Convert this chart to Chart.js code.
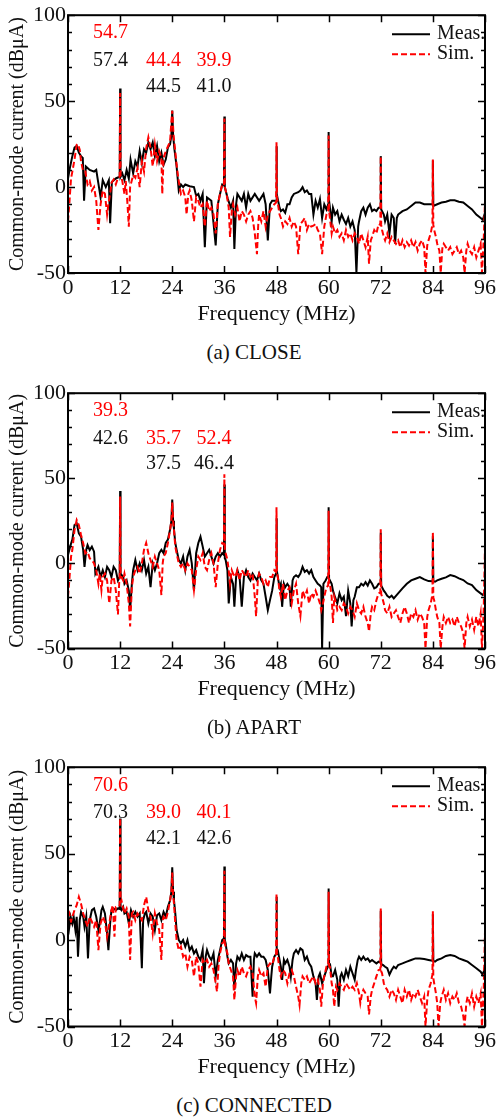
<!DOCTYPE html>
<html>
<head>
<meta charset="utf-8">
<script src="https://cdn.jsdelivr.net/npm/chart.js@4.4.1/dist/chart.umd.min.js"></script>
<style>
  html, body { margin: 0; padding: 0; background: #fff; }
  body { width: 498px; height: 1120px; position: relative; overflow: hidden; font-family: "Liberation Serif", "Times New Roman", serif; }
  canvas { position: absolute; left: 0; }
  .cap { position: absolute; left: 0; width: 508px; text-align: center; font-size: 21px; line-height: 24px; color: #111; }
</style>
</head>
<body>
<canvas id="cA" width="498" height="340" style="top:0px"></canvas>
<canvas id="cB" width="498" height="340" style="top:378px"></canvas>
<canvas id="cC" width="498" height="340" style="top:752px"></canvas>
<div class="cap" style="top:340px">(a) CLOSE</div>
<div class="cap" style="top:715px">(b) APART</div>
<div class="cap" style="top:1093px">(c) CONNECTED</div>
<script>
// ---------------- DATA (frequency MHz, level dBµA) ----------------
const closeMeas = [[0,5],[0.5,12],[1,18],[1.5,23],[2,24],[2.5,20],[3,18],[3.4,17],[3.7,-8],[4.1,12],[5,10],[6,9],[6.5,10],[7,2],[7.5,-6],[8,4],[8.7,0],[9.4,4],[9.7,-21],[10.1,3],[11,5],[11.9,6],[12,57.4],[12.1,6],[12.5,8],[13,4],[13.5,10],[14,5],[14.4,16],[15,8],[15.5,15],[16,12],[16.5,21],[17,14],[17.5,22],[18,20],[18.5,26],[19,22],[19.5,26],[20,18],[20.5,24],[21,15],[21.5,20],[22,13],[22.5,16],[23,23],[23.5,25],[23.8,30],[24,44.5],[24.2,30],[24.5,22],[25,12],[25.5,-2],[26,1.5],[26.5,0],[27,1.5],[28,0.5],[29,0],[29.5,-5],[30,-4],[30.5,-8],[31,-4],[31.5,-35],[32,-6],[33,-8],[34,-34],[34.5,-10],[35,-4],[35.5,1.5],[35.9,1],[36,41.0],[36.1,0],[36.8,-7],[37.5,-12],[38,-8],[38.3,-36],[38.7,-10],[39,-4],[40,-8],[40.5,-4],[41,-12],[41.5,-4],[42,-8],[43,-4],[44,-8],[45,-4],[45.5,-10],[46,-31],[46.5,-10],[47,-8],[47.9,-8],[48,23.7],[48.1,-4],[48.7,-12],[49,-14],[49.5,-13],[50,-15],[50.5,-10],[51,-10],[51.5,-6],[52,-4],[53,-3],[53.5,-2],[54,0],[54.5,-3],[55,-2],[55.5,-4],[56,-4],[56.5,-16],[57,-8],[57.5,-12],[58,-7],[58.5,-18],[59,-10],[59.5,-13],[59.9,-10],[60,32],[60.1,-8],[60.7,-20],[61,-12],[61.5,-16],[62,-14],[62.5,-20],[63,-16],[63.5,-19],[64,-21.5],[64.5,-18],[65,-23],[65.5,-20],[66,-25],[66.4,-50],[66.8,-23],[67,-20],[67.5,-14],[68,-12],[68.5,-16],[69,-12],[69.5,-10],[70,-14],[70.5,-13],[71,-14],[71.5,-12],[71.9,-12],[72,18],[72.1,-13],[72.7,-16],[73,-20],[73.5,-16],[74,-27],[74.5,-16],[75,-18],[75.3,-33],[75.7,-18],[76,-16],[77,-14],[78,-13],[79,-11],[80,-9],[81,-9],[82,-10],[83,-10],[83.9,-10],[84,15.4],[84.1,-11],[85,-10],[86,-9],[87,-8.5],[88,-7.7],[89,-7.7],[90,-8.5],[91,-9],[92,-11],[93,-13],[94,-16],[95,-18],[95.5,-19],[96,-15]];
const closeSim = [[0,-20],[0.3,-10],[0.7,5],[1,9],[1.5,16],[2,24.6],[2.3,25],[2.7,21.7],[3,15],[3.5,9],[4,9],[4.5,1.5],[5,3.5],[5.5,-2],[6,0],[6.5,-8],[7,-25],[7.5,-10],[8,-2],[8.5,-4],[9,-16],[9.3,-10],[9.7,-4],[10,2.5],[10.5,4.4],[11,1.5],[11.5,5.4],[11.9,6],[12,54.7],[12.1,7],[12.5,3.5],[13,-4],[13.3,3.5],[13.7,-10],[14,-23],[14.3,0],[15,7],[15.5,5.4],[16,11],[16.5,0],[17,15],[17.5,9],[18,22.7],[18.5,29],[19,22.7],[19.5,12],[20,24.6],[20.5,15],[21,20.8],[21.5,17],[21.7,-4],[22,17],[22.5,20.8],[23,23.6],[23.5,26.5],[23.8,38],[24,44.4],[24.3,30],[24.7,20.8],[25,13],[25.3,7],[25.7,0],[26,-4],[26.5,-2],[27,-6],[27.3,-16],[27.7,-4],[28,-2],[28.5,-8],[29,-20],[29.5,-6],[30,-8],[30.5,-12],[31,-10],[31.5,-23],[32,-8],[32.5,-14],[33,-12],[33.5,-16],[34,-27],[34.5,-10],[35,-4],[35.5,1.5],[35.9,1],[36,39.9],[36.1,0],[36.5,-4],[37,-12],[37.3,-29],[37.7,-14],[38,-10],[38.5,-16],[39,-12],[39.5,-20],[40,-14],[40.5,-16],[41,-20],[41.5,-16],[42,-14],[42.5,-18],[43,-27],[43.5,-39],[43.8,-21.5],[44,-16],[44.5,-20],[45,-14],[45.5,-23],[46,-16],[46.5,-14],[47,-12],[47.5,-10],[47.9,-9],[48,26],[48.1,-6],[48.7,-16],[49,-18],[49.5,-23],[50,-20],[50.5,-21.5],[51,-18],[51.5,-23],[52,-20],[52.5,-23],[53,-39],[53.5,-21.5],[54,-20],[54.5,-18],[55,-25],[55.5,-21.5],[56,-23],[56.5,-22.5],[57,-21.5],[57.5,-25],[58,-27],[58.5,-39],[59,-23],[59.5,-16],[59.9,-14],[60,30],[60.1,-14],[60.3,-18],[60.7,-27],[61,-23],[61.5,-27],[62,-25],[62.5,-29],[63,-27],[63.5,-31],[64,-25],[64.5,-29],[65,-27],[65.5,-31],[66,-27],[66.5,-29],[67,-33],[67.5,-27],[68,-31],[68.5,-35],[69,-29],[69.3,-44.6],[69.7,-31],[70,-29],[70.5,-25],[71,-27],[71.5,-21.5],[71.9,-22],[72,18],[72.1,-22],[72.3,-25],[72.7,-29],[73,-31],[73.5,-27],[74,-32],[74.5,-29],[75,-31],[75.5,-33],[76,-31],[76.5,-35],[77,-31],[77.5,-35],[78,-32],[78.5,-34],[79,-31],[79.5,-35],[80,-32],[80.5,-37],[81,-33],[81.5,-31],[82,-35],[82.3,-50],[82.7,-34],[83,-31],[83.5,-27],[83.8,-23],[83.9,-22],[84,16],[84.1,-22],[84.3,-25],[84.7,-29],[85,-33],[85.5,-37],[85.8,-50],[86.2,-35],[86.5,-33],[87,-35],[87.5,-37],[88,-35],[88.5,-39],[89,-37],[89.5,-35],[90,-39],[90.5,-37],[91,-41],[91.3,-50],[91.7,-37],[92,-33],[92.5,-37],[93,-39],[93.5,-35],[94,-41],[94.5,-37],[95,-33],[95.3,-50],[95.7,-31],[96,-8]];

const apartMeas = [[0,5],[0.5,10],[1,14],[1.5,22.5],[2,23.5],[2.5,17.6],[3,15.7],[3.5,7.8],[3.8,-2],[4.2,8],[4.5,10.8],[5,7.8],[5.5,9.8],[6,6.9],[6.3,-6],[7,-2],[7.5,-8],[8,-4],[8.5,-8],[9,-2],[9.5,-4],[10,-8],[10.5,-2],[11,-4],[11.5,-10],[11.9,-8],[12,42.6],[12.1,-6],[12.7,-8],[13,-12],[13.5,-10],[14,-16],[14.3,-27.5],[14.7,-12],[15,-4],[15.5,2],[16,-4],[16.5,0],[17,-4],[17.5,2],[18,-6],[18.5,-2],[19,-14],[19.5,0],[20,-4],[20.5,0],[21,6],[21.5,8],[22,6],[22.5,12],[23,14],[23.5,20],[23.8,25],[24,37.5],[24.2,25],[24.4,20],[24.7,12],[25,8],[25.5,2],[26,0],[26.5,4],[27,-4],[27.5,4],[28,8],[28.5,0],[29,-16],[29.5,6],[30,12],[30.5,15.7],[31,10],[31.5,4],[32,6],[32.5,8],[33,4],[33.5,0],[34,4],[34.5,6],[35,4],[35.5,6],[35.9,5],[36,46.4],[36.1,3],[36.3,2],[36.7,-4],[37,-23.5],[37.5,-8],[38,-12],[38.3,-25.5],[38.7,-8],[39,-4],[39.5,-8],[40,-25.5],[40.5,-8],[41,-4],[41.5,-8],[42,-10],[42.5,-6],[43,-8],[43.5,-10],[44,-6],[44.5,-10],[45,-12],[45.5,-19.6],[46,-27.5],[46.5,-21.6],[47,-16],[47.5,-8],[47.9,-6],[48,26.5],[48.1,-4],[48.7,-14],[49,-12],[49.3,-25.5],[49.7,-12],[50,-14],[50.5,-12],[51,-14],[51.3,-25.5],[51.7,-10],[52,-8],[52.5,-7],[53,-8],[53.5,-6],[54,-2],[54.5,-5],[55,-4],[55.5,-6],[56,-4],[56.5,-8],[57,-10],[57.5,-12],[58,-13],[58.3,-14],[58.5,-50],[58.8,-12],[59.3,-10],[59.7,-8],[59.9,-8],[60,33],[60.1,-9],[60.7,-12],[61,-16],[61.5,-20],[62,-23.5],[62.5,-17.6],[63,-21.6],[63.5,-19.6],[64,-31],[64.5,-16],[65,-23.5],[65.3,-37],[65.7,-21.6],[66,-19.6],[66.5,-14],[67,-14],[67.5,-12],[68,-13],[68.5,-11],[69,-13],[69.5,-10],[70,-12],[70.5,-14.7],[71,-14],[71.5,-12],[71.9,-12],[72,18],[72.1,-13],[72.7,-16],[73,-17],[73.5,-19],[74,-20],[74.5,-19],[75,-20.6],[76,-17.6],[77,-14.7],[78,-12],[79,-10],[80,-9],[81,-8],[82,-9.4],[83,-10.4],[83.9,-10.5],[84,16],[84.1,-10.5],[84.5,-10.8],[85,-10],[86,-9],[87,-8.2],[88,-6.9],[89,-7.5],[90,-8.8],[91,-9.8],[92,-11.8],[93,-12.7],[94,-15.7],[95,-17.6],[95.5,-18.6],[96,-16.7]];
const apartSim = [[0,-19.6],[0.3,-10],[0.7,4],[1,8],[1.5,19.6],[2,25.5],[2.5,22.5],[3,16.7],[3.5,11.8],[4,5.9],[4.5,6.9],[5,3],[5.5,2],[6,0],[6.5,-4],[7,-12],[7.3,-6],[7.7,-15.7],[8,-8],[8.5,-6],[9,-10],[9.5,-23.5],[9.8,-15.7],[10,-10],[10.5,-8],[11,-15.7],[11.5,-30],[11.8,-10],[11.9,-9],[12,39.3],[12.1,-8],[12.3,-8],[12.7,-10],[13,-6],[13.5,-12],[14,-23.5],[14.3,-37],[14.7,-14],[15,-8],[15.5,-4],[16,-2],[16.5,-6],[17,0],[17.5,8],[18,12],[18.5,6],[19,2],[19.5,-2],[20,4],[20.5,0],[21,-4],[21.5,-18.6],[21.8,0],[22,4],[22.5,6],[23,12],[23.5,19.6],[23.8,25],[24,35.7],[24.2,25],[24.4,19.6],[24.7,9.8],[25,6],[25.5,0],[26,-2],[26.5,0],[27,-4],[27.5,0],[28,-2],[28.5,-4],[29,-15.7],[29.5,-4],[30,4],[30.5,2],[31,6],[31.5,-2],[32,-4],[32.5,2],[33,6],[33.5,0],[34,-14],[34.5,0],[35,8],[35.5,12],[35.9,11],[36,52.4],[36.1,8],[36.3,6],[36.7,2],[37,-4],[37.3,-12],[37.7,-4],[38,-6],[38.5,-8],[39,-4],[39.5,-10],[40,-4],[40.5,-6],[41,-8],[41.5,-4],[42,-8],[42.5,-6],[43,-19.6],[43.3,-31],[43.7,-10],[44,-6],[44.5,-8],[45,-12],[45.5,-10],[46,-14],[46.5,-8],[47,-8],[47.5,-4],[47.9,-5],[48,33],[48.1,-6],[48.3,-8],[48.7,-16],[49,-19.6],[49.5,-12],[50,-21.6],[50.5,-16],[51,-14],[51.5,-23.5],[52,-16],[52.5,-12],[53,-23.5],[53.5,-31],[54,-16],[54.5,-19.6],[55,-16],[55.5,-23.5],[56,-17.6],[56.5,-19.6],[57,-16],[57.5,-19.6],[58,-23.5],[58.3,-27.5],[58.7,-23.5],[59,-19.6],[59.5,-14],[59.9,-13],[60,31],[60.1,-12],[60.3,-12],[60.7,-19.6],[61,-35],[61.3,-19.6],[61.7,-23.5],[62,-27.5],[62.5,-25.5],[63,-27.5],[63.5,-23.5],[64,-25.5],[64.5,-29.4],[65,-25.5],[65.5,-27.5],[66,-31.4],[66.5,-23.5],[67,-27.5],[67.5,-29.4],[68,-25.5],[68.5,-31.4],[69,-35],[69.3,-40],[69.7,-29.4],[70,-25.5],[70.5,-27.5],[71,-21.6],[71.5,-17.6],[71.9,-17],[72,20],[72.1,-18],[72.3,-19.6],[72.7,-23.5],[73,-27.5],[73.5,-29.4],[74,-25.5],[74.5,-31.4],[75,-29.4],[75.5,-27.5],[76,-31.4],[76.5,-35],[77,-29.4],[77.5,-25.5],[78,-29.4],[78.5,-35],[79,-29.4],[79.5,-31.4],[80,-27.5],[80.5,-33],[81,-29.4],[81.5,-31.4],[82,-35],[82.3,-50],[82.7,-31.4],[83,-27.5],[83.5,-23.5],[83.8,-19.6],[83.9,-19],[84,18.6],[84.1,-20],[84.3,-21.6],[84.7,-27.5],[85,-31.4],[85.5,-35],[85.8,-50],[86.2,-37],[86.5,-31.4],[87,-35],[87.5,-31.4],[88,-35],[88.5,-33],[89,-37],[89.5,-31.4],[90,-35],[90.5,-37],[91,-41],[91.3,-50],[91.7,-35],[92,-31.4],[92.5,-37],[93,-33],[93.5,-39],[94,-31.4],[94.5,-37],[95,-29.4],[95.3,-50],[95.7,-27.5],[96,10]];

const connMeas = [[0,15],[0.3,7.7],[0.6,13.5],[1,9.6],[1.3,13.5],[1.7,5.8],[2,13.5],[2.3,-9.6],[2.7,11.5],[3,16.3],[3.5,13.5],[3.8,7.7],[4.2,13.5],[4.6,-10.6],[5,11.5],[5.5,17.3],[6,18.3],[6.5,13.5],[7,5.8],[7.3,9.6],[7.7,17.3],[8,19.2],[8.5,15.4],[9,3.8],[9.3,-5.8],[9.7,9.6],[10,17.3],[10.5,18.3],[11,17.3],[11.5,18.3],[11.9,18],[12,70.3],[12.1,18],[12.3,17.3],[12.7,19.2],[13,15.4],[13.5,16.3],[14,9.6],[14.5,17.3],[15,13.5],[15.5,16.3],[16,13.5],[16.5,15.4],[17,-16.3],[17.3,11.5],[17.7,15.4],[18,16.3],[18.5,9.6],[19,15.4],[19.5,13.5],[20,5.8],[20.5,14.4],[21,15.4],[21.5,11.5],[22,16.3],[22.5,13.5],[23,19.2],[23.5,23],[23.8,28],[24,42.1],[24.2,28],[24.4,23],[24.7,15.4],[25,5.8],[25.5,0],[26,-1.9],[26.5,0],[27,-3.8],[27.5,0],[28,-5.8],[28.5,-3.8],[29,-7.7],[29.5,-5.8],[30,-9.6],[30.5,-11.5],[31,-5.8],[31.3,-25],[31.7,-9.6],[32,-5.8],[32.5,-9.6],[33,-11.5],[33.5,-7.7],[34,-21],[34.5,-11.5],[35,-5.8],[35.5,0],[35.9,1],[36,42.6],[36.1,0],[36.3,-1.9],[36.7,-9.6],[37,-13.5],[37.5,-11.5],[38,-13.5],[38.3,-28.8],[38.7,-13.5],[39,-9.6],[39.5,-11.5],[40,-7.7],[40.5,-11.5],[41,-8.7],[41.5,-9.6],[42,-9.6],[42.5,-32.7],[42.8,-11.5],[43,-7.7],[43.5,-9.6],[44,-7.7],[44.5,-9.6],[45,-9.6],[45.5,-11.5],[46,-17.3],[46.5,-30.8],[46.8,-21],[47,-15.4],[47.5,-9.6],[47.9,-8],[48,25],[48.1,-5],[48.3,-5.8],[48.7,-11.5],[49,-15.4],[49.3,-23],[49.7,-11.5],[50,-13.5],[50.5,-11.5],[51,-15.4],[51.3,-21],[51.7,-11.5],[52,-7.7],[52.5,-5.8],[53,-7.7],[53.5,-4.8],[54,-5.8],[54.5,-11.5],[55,-9.6],[55.5,-13.5],[56,-15.4],[56.5,-21],[57,-25],[57.3,-34.6],[57.7,-21],[58,-19.2],[58.5,-25],[59,-21],[59.5,-17.3],[59.9,-15],[60,29.8],[60.1,-14],[60.3,-13.5],[60.7,-21],[61,-21],[61.5,-17.3],[62,-23],[62.3,-38.5],[62.7,-21],[63,-19.2],[63.5,-23],[64,-17.3],[64.5,-21],[65,-15.4],[65.5,-19.2],[66,-23],[66.3,-17.3],[66.7,-11.5],[67,-9.6],[67.5,-11.5],[68,-9.6],[68.5,-11.5],[69,-10.6],[69.5,-12.5],[70,-11.5],[70.5,-12.5],[71,-13.5],[71.5,-12.5],[71.9,-13],[72,17],[72.1,-14],[72.5,-14.4],[73,-15.4],[73.5,-16.3],[74,-20],[74.5,-17.3],[75,-15.4],[75.5,-16.3],[76,-14.4],[77,-13.5],[78,-12.5],[79,-11.5],[80,-10.6],[81,-10.6],[82,-11],[83,-11.5],[83.9,-12],[84,15],[84.1,-12],[84.5,-12.5],[85,-11.5],[86,-10.6],[87,-9.2],[88,-8.7],[89,-9.2],[90,-10.6],[91,-11.5],[92,-12.5],[93,-14.4],[94,-16.3],[95,-18.3],[95.5,-20.2],[96,-15.4]];
const connSim = [[0,13.5],[0.3,15.4],[0.7,10.6],[1,13.5],[1.5,17.3],[2,20.2],[2.5,25],[3,21],[3.5,15.4],[4,11.5],[4.5,7.7],[5,13.5],[5.5,10.6],[6,7.7],[6.5,11.5],[7,-5.8],[7.5,9.6],[8,13.5],[8.5,10.6],[9,1.9],[9.5,9.6],[10,17.3],[10.3,20.2],[10.7,1.9],[11,19.2],[11.5,20.2],[11.9,20],[12,70.6],[12.1,22],[12.3,23],[12.7,18.3],[13,15.4],[13.5,18.3],[14,13.5],[14.3,-11.5],[14.7,15.4],[15,16.3],[15.5,11.5],[16,15.4],[16.5,13.5],[17,11.5],[17.5,20.2],[18,25],[18.5,17.3],[19,13.5],[19.5,3.8],[20,15.4],[20.5,9.6],[21,5.8],[21.5,-11.5],[21.8,11.5],[22,13.5],[22.5,11.5],[23,16.3],[23.5,23],[23.8,28],[24,39.0],[24.2,26],[24.4,21],[24.7,9.6],[25,0],[25.5,-5.8],[26,-3.8],[26.5,-9.6],[27,-7.7],[27.5,-15.4],[28,-9.6],[28.5,-11.5],[29,-21],[29.5,-9.6],[30,-13.5],[30.5,-27],[31,-11.5],[31.5,-13.5],[32,-11.5],[32.5,-15.4],[33,-13.5],[33.5,-17.3],[34,-25],[34.3,-29.8],[34.7,-13.5],[35,-7.7],[35.5,-1.9],[35.9,-1],[36,40.1],[36.1,-2],[36.3,-3.8],[36.7,-7.7],[37,-13.5],[37.5,-17.3],[38,-21],[38.3,-34.6],[38.7,-21],[39,-17.3],[39.5,-21],[40,-15.4],[40.5,-19.2],[41,-21],[41.5,-17.3],[42,-15.4],[42.5,-19.2],[43,-32.7],[43.3,-36.5],[43.7,-21],[44,-17.3],[44.5,-21],[45,-19.2],[45.5,-27],[46,-15.4],[46.5,-13.5],[47,-14.4],[47.5,-9.6],[47.9,-9],[48,27],[48.1,-9],[48.3,-9.6],[48.7,-17.3],[49,-21],[49.5,-17.3],[50,-19.2],[50.5,-25],[51,-19.2],[51.5,-17.3],[52,-21],[52.5,-27],[53,-32.7],[53.3,-37.5],[53.7,-25],[54,-21],[54.5,-23],[55,-21],[55.5,-25],[56,-23],[56.5,-21],[57,-25],[57.5,-23],[58,-28.8],[58.3,-38.5],[58.7,-25],[59,-21],[59.5,-15.4],[59.9,-15],[60,28],[60.1,-15],[60.3,-15.4],[60.7,-25],[61,-28.8],[61.3,-38.5],[61.7,-27],[62,-28.8],[62.5,-25],[63,-27],[63.5,-28.8],[64,-25],[64.5,-27],[65,-28.8],[65.5,-27],[66,-28.8],[66.5,-25],[67,-30.8],[67.3,-36.5],[67.7,-30.8],[68,-28.8],[68.5,-30.8],[69,-32.7],[69.3,-43],[69.7,-32.7],[70,-28.8],[70.5,-25],[71,-21],[71.5,-17.3],[71.9,-17],[72,18.3],[72.1,-18],[72.3,-19.2],[72.7,-25],[73,-27],[73.5,-28.8],[74,-32.7],[74.5,-28.8],[75,-30.8],[75.5,-34.6],[76,-28.8],[76.5,-32.7],[77,-36.5],[77.5,-28.8],[78,-32.7],[78.5,-28.8],[79,-34.6],[79.5,-30.8],[80,-32.7],[80.5,-28.8],[81,-32.7],[81.5,-36.5],[82,-32.7],[82.3,-50],[82.7,-34.6],[83,-28.8],[83.5,-25],[83.8,-21],[83.9,-20],[84,16.7],[84.1,-22],[84.3,-25],[84.7,-30.8],[85,-36.5],[85.3,-50],[85.7,-36.5],[86,-32.7],[86.5,-28.8],[87,-34.6],[87.5,-30.8],[88,-36.5],[88.5,-32.7],[89,-34.6],[89.5,-30.8],[90,-36.5],[90.5,-38.5],[91,-44],[91.3,-50],[91.7,-36.5],[92,-32.7],[92.5,-36.5],[93,-30.8],[93.5,-38.5],[94,-32.7],[94.5,-36.5],[95,-30.8],[95.3,-50],[95.7,-28.8],[96,5]];

// peak value labels at 12, 24, 36 MHz
const closeSimLabels = ['54.7', '44.4', '39.9'];
const closeMeasLabels = ['57.4', '44.5', '41.0'];
const apartSimLabels = ['39.3', '35.7', '52.4'];
const apartMeasLabels = ['42.6', '37.5', '46..4'];
const connSimLabels = ['70.6', '39.0', '40.1'];
const connMeasLabels = ['70.3', '42.1', '42.6'];

const xTickStep = 12;
const yTickStep = 50;
const yMinorStep = 10;

// ---------------- RENDERING ----------------
const FONT = '"Liberation Serif", "Times New Roman", serif';
const TXT = '#111';
const RED = '#ff0000';

// layout of the annotation columns (MHz) and rows (dB) in data coordinates
const labelCols = [9.8, 22, 33.6];
const rowHigh = 89.5, rowMid = 73.5, rowLow = 58.5;

const decor = {
  id: 'decor',
  afterDatasetsDraw(chart) {
    const { ctx, chartArea: a, scales: { x, y } } = chart;
    const cfg = chart.options.plugins.decor;
    ctx.save();
    ctx.strokeStyle = '#000';
    ctx.lineWidth = 1.5;
    ctx.setLineDash([]);
    ctx.beginPath();
    x.ticks.forEach(t => {
      const px = Math.round(x.getPixelForValue(t.value)) + 0.5;
      ctx.moveTo(px, a.bottom); ctx.lineTo(px, a.bottom - 7);
      ctx.moveTo(px, a.top); ctx.lineTo(px, a.top + 7);
    });
    for (let v = y.min; v <= y.max + 1e-9; v += yMinorStep) {
      const py = Math.round(y.getPixelForValue(v)) + 0.5;
      const len = (Math.abs(v % yTickStep) < 1e-9) ? 7 : 4;
      ctx.moveTo(a.left, py); ctx.lineTo(a.left + len, py);
      ctx.moveTo(a.right, py); ctx.lineTo(a.right - len, py);
    }
    ctx.stroke();
    ctx.lineWidth = 2;
    ctx.strokeRect(a.left, a.top, a.right - a.left, a.bottom - a.top);

    // legend
    ctx.font = '20px ' + FONT;
    ctx.textBaseline = 'middle';
    ctx.textAlign = 'left';
    const lx0 = a.left + 324, lx1 = a.left + 362, tx = a.left + 369;
    const ly1 = a.top + 19, ly2 = a.top + 39;
    ctx.lineWidth = 2;
    ctx.strokeStyle = '#000';
    ctx.beginPath(); ctx.moveTo(lx0, ly1); ctx.lineTo(lx1, ly1); ctx.stroke();
    ctx.strokeStyle = RED;
    ctx.setLineDash([6, 3]);
    ctx.beginPath(); ctx.moveTo(lx0, ly2); ctx.lineTo(lx1, ly2); ctx.stroke();
    ctx.setLineDash([]);
    ctx.fillStyle = TXT;
    ctx.fillText('Meas.', tx, ly1);
    ctx.fillText('Sim.', tx, ly2);

    // peak labels
    ctx.textAlign = 'center';
    cfg.sim.forEach((s, i) => {
      const px = x.getPixelForValue(labelCols[i]);
      const ys = i === 0 ? rowHigh : rowMid;
      const ym = i === 0 ? rowMid : rowLow;
      ctx.fillStyle = RED;
      ctx.fillText(s, px, y.getPixelForValue(ys));
      ctx.fillStyle = TXT;
      ctx.fillText(cfg.meas[i], px, y.getPixelForValue(ym));
    });
    ctx.restore();
  }
};

function makeChart(id, meas, sim, simLabels, measLabels, plotH) {
  const padTop = 14.5;
  const axisH = 58;
  const padBottom = 340 - padTop - plotH - axisH;
  const font = { family: FONT, size: 22 };
  return new Chart(document.getElementById(id), {
    type: 'line',
    data: {
      datasets: [
        { label: 'Meas.', data: meas.map(p => ({ x: p[0], y: p[1] })), borderColor: '#000', borderWidth: 2, order: 1 },
        { label: 'Sim.', data: sim.map(p => ({ x: p[0], y: p[1] })), borderColor: RED, borderWidth: 2, borderDash: [6, 3], order: 0 }
      ]
    },
    options: {
      responsive: false,
      animation: false,
      devicePixelRatio: 1,
      layout: { padding: { top: padTop, right: 10, bottom: padBottom, left: 0 } },
      elements: { point: { radius: 0 }, line: { tension: 0, fill: false } },
      plugins: {
        legend: { display: false },
        tooltip: { enabled: false },
        decor: { sim: simLabels, meas: measLabels }
      },
      scales: {
        x: {
          type: 'linear', min: 0, max: 96,
          grid: { display: false, drawTicks: false },
          border: { display: false },
          ticks: { stepSize: xTickStep, autoSkip: false, maxRotation: 0, padding: 2, color: TXT, font },
          title: { display: true, text: 'Frequency (MHz)', color: TXT, font, padding: { top: 0, bottom: 4 } },
          afterFit(s) { s.height = axisH; }
        },
        y: {
          min: -50, max: 100,
          grid: { display: false, drawTicks: false },
          border: { display: false },
          ticks: { stepSize: yTickStep, padding: 2, color: TXT, font },
          title: { display: true, text: 'Common-mode current (dBμA)', color: TXT, font: { family: FONT, size: 20 }, padding: { top: 6, bottom: 0 } },
          afterFit(s) { s.width = 68; }
        }
      }
    },
    plugins: [decor]
  });
}

makeChart('cA', closeMeas, closeSim, closeSimLabels, closeMeasLabels, 258.5);
makeChart('cB', apartMeas, apartSim, apartSimLabels, apartMeasLabels, 256);
makeChart('cC', connMeas, connSim, connSimLabels, connMeasLabels, 260);
</script>
</body>
</html>
